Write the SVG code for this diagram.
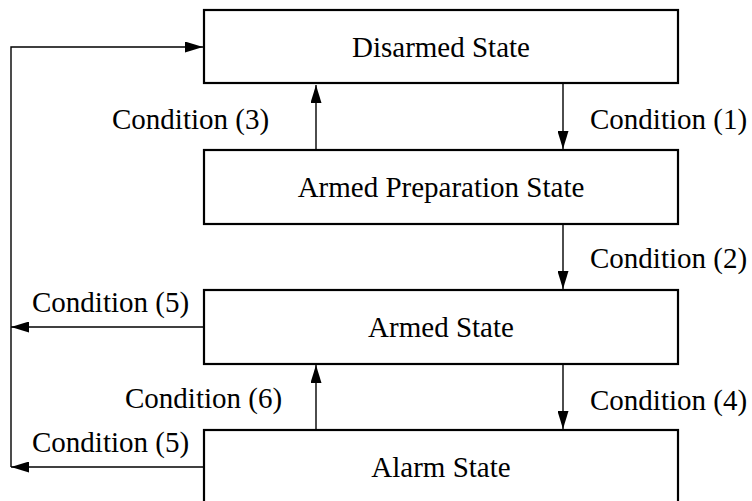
<svg xmlns="http://www.w3.org/2000/svg" width="752" height="501" viewBox="0 0 752 501">
<style>
.box{fill:#fff;stroke:#000;stroke-width:2.2}
.t{font-family:"Liberation Serif","Times New Roman",serif;font-size:29px;fill:#000}
.c{text-anchor:middle}
.ln{fill:none;stroke:#000;stroke-width:1.4}
</style>
<defs>
<marker id="ah" viewBox="0 0 18 11" refX="18" refY="5.5" markerWidth="18" markerHeight="11" markerUnits="userSpaceOnUse" orient="auto">
<path d="M0,0 L18,5.5 L0,11 Z" fill="#000"/>
</marker>
</defs>
<g id="connectors">
<line class="ln" x1="563" y1="84" x2="563" y2="149" marker-end="url(#ah)"/>
<line class="ln" x1="316" y1="150" x2="316" y2="85" marker-end="url(#ah)"/>
<line class="ln" x1="563" y1="224" x2="563" y2="289" marker-end="url(#ah)"/>
<line class="ln" x1="563" y1="364" x2="563" y2="429" marker-end="url(#ah)"/>
<line class="ln" x1="316" y1="430" x2="316" y2="365" marker-end="url(#ah)"/>
<line class="ln" x1="204" y1="327" x2="11" y2="327" marker-end="url(#ah)"/>
<line class="ln" x1="204" y1="467" x2="11" y2="467" marker-end="url(#ah)"/>
<polyline class="ln" points="11,467 11,47 203,47" marker-end="url(#ah)"/>
<text class="t" x="590" y="129">Condition (1)</text>
<text class="t" x="112" y="129">Condition (3)</text>
<text class="t" x="590" y="268">Condition (2)</text>
<text class="t" x="32" y="312">Condition (5)</text>
<text class="t" x="125" y="408">Condition (6)</text>
<text class="t" x="590" y="410">Condition (4)</text>
<text class="t" x="32" y="452">Condition (5)</text>
</g>
<g id="disarmed">
<rect class="box" x="204" y="10" width="474" height="73"/>
<text class="t c" x="441" y="57">Disarmed State</text>
</g>
<g id="armed-prep">
<rect class="box" x="204" y="150" width="474" height="74"/>
<text class="t c" x="441" y="197">Armed Preparation State</text>
</g>
<g id="armed">
<rect class="box" x="204" y="290" width="474" height="74"/>
<text class="t c" x="441" y="337">Armed State</text>
</g>
<g id="alarm">
<rect class="box" x="204" y="430" width="474" height="80"/>
<text class="t c" x="441" y="477">Alarm State</text>
</g>
</svg>
